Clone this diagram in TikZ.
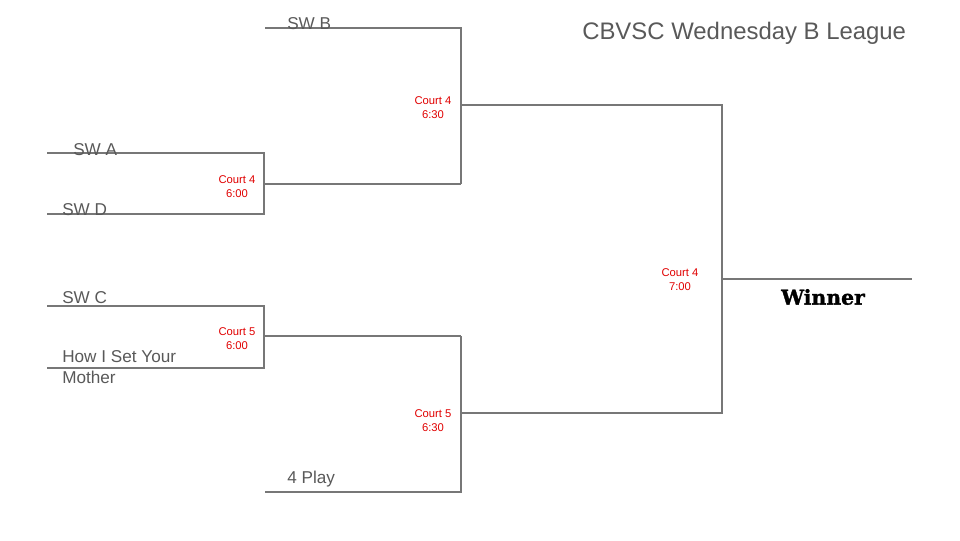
\documentclass[tikz,border=0pt]{standalone}
\usepackage{fontspec}
\setmainfont{Liberation Sans}
\newfontfamily\slabfont[FakeBold=1.5]{DejaVu Serif}
\usepackage{xcolor}
\usetikzlibrary{positioning, calc}
\definecolor{lineGray}{HTML}{777777}
\definecolor{textGray}{HTML}{595959}
\definecolor{courtRed}{HTML}{E00000}
\tikzset{
    bracket/.style={draw=lineGray, line width=1.5pt},
    team/.style={anchor=base west, inner sep=0pt, text=textGray, font=\fontsize{12.2}{14}\selectfont},
    court/.style={align=center, inner sep=0pt, text=courtRed, font=\fontsize{8}{10}\selectfont},
    title_text/.style={anchor=base west, inner sep=0pt, text=textGray, font=\fontsize{17}{20}\selectfont},
    winner_text/.style={inner sep=0pt, font=\slabfont\bfseries\fontsize{14.5}{16}\selectfont}
}

\begin{document}
\begin{tikzpicture}[x=0.025cm, y=-0.025cm]
    \useasboundingbox (0,0) rectangle (960,540);
    % Round 1 slots
    \coordinate (swaL) at (47,153);  \coordinate (swaR) at (264,153);
    \coordinate (swdL) at (47,214);  \coordinate (swdR) at (264,214);
    \coordinate (swcL) at (47,306);  \coordinate (swcR) at (264,306);
    \coordinate (howL) at (47,368);  \coordinate (howR) at (264,368);
    % Round 2 slots
    \coordinate (swbL) at (265,28);  \coordinate (swbR) at (461,28);
    \coordinate (ad)   at (264,184); \coordinate (adR)  at (461,184);
    \coordinate (ch)   at (264,336); \coordinate (chR)  at (461,336);
    \coordinate (plyL) at (265,492); \coordinate (plyR) at (461,492);
    % Final slots
    \coordinate (topF) at (461,105); \coordinate (topR) at (722,105);
    \coordinate (botF) at (461,413); \coordinate (botR) at (722,413);
    \coordinate (win)  at (722,279); \coordinate (winR) at (912,279);
    % Round 1 lines
    \draw[bracket] (swaL) -- (swaR) -- (swdR) -- (swdL);
    \draw[bracket] (swcL) -- (swcR) -- (howR) -- (howL);
    \draw[bracket] (ad) -- (adR);
    \draw[bracket] (ch) -- (chR);
    % Round 2 lines
    \draw[bracket] (swbL) -- (swbR) -- (adR);
    \draw[bracket] (plyL) -- (plyR) -- (chR);
    \draw[bracket] (topF) -- (topR) -- (botR) -- (botF);
    % Winner line
    \draw[bracket] (win) -- (winR);
    % Team names
    \node[team] (swb) at (287,29) {SW B};
    \node[team] (swa) at (73,155) {SW A};
    \node[team] (swd) at (62,215) {SW D};
    \node[team] (swc) at (62,303) {SW C};
    \node[team] (how) at (62,362) {How I Set Your};
    \node[team] (mom) at (62,383) {Mother};
    \node[team] (ply) at (287,483) {4 Play};
    % Courts and times
    \node[court] (c46) at (237,187) {Court 4\\6:00};
    \node[court] (c56) at (237,339) {Court 5\\6:00};
    \node[court] (c463) at (433,108) {Court 4\\6:30};
    \node[court] (c563) at (433,421) {Court 5\\6:30};
    \node[court] (c47) at (680,280) {Court 4\\7:00};
    % Title and winner
    \node[title_text] (title) at (582,39) {CBVSC Wednesday B League};
    \node[winner_text] (winner) at (823,297) {Winner};
\end{tikzpicture}
\end{document}
